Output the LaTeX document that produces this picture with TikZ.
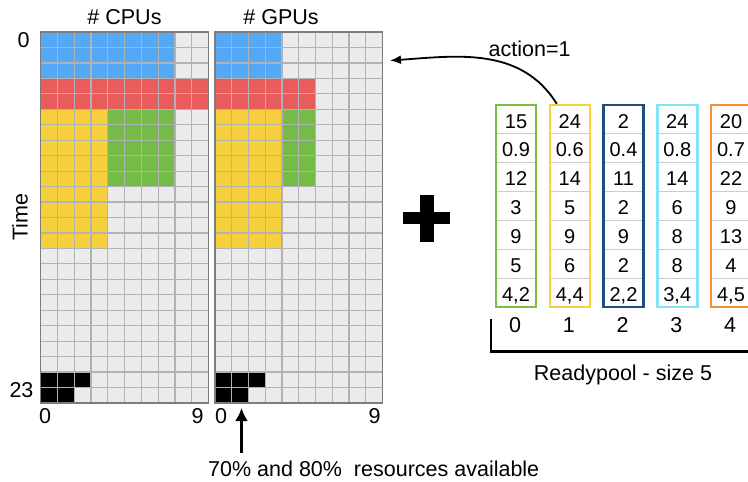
\documentclass[tikz,border=0pt]{standalone}
\usepackage{fontspec}
\setmainfont{Liberation Sans}
\usetikzlibrary{arrows.meta,positioning}

\definecolor{jobblue}{HTML}{55A8F5}
\definecolor{jobred}{HTML}{E85C5C}
\definecolor{jobyellow}{HTML}{F5CF3C}
\definecolor{jobgreen}{HTML}{74BC45}
\definecolor{cellgray}{HTML}{EBEBEB}
\definecolor{linegray}{HTML}{B2B2B2}
\definecolor{bordergray}{HTML}{7C7C7C}
\definecolor{sepgray}{HTML}{CCCCCC}
\definecolor{rpgreen}{HTML}{78C043}
\definecolor{rpyellow}{HTML}{F6D23E}
\definecolor{rpnavy}{HTML}{1F4E7C}
\definecolor{rpcyan}{HTML}{86E3F7}
\definecolor{rporange}{HTML}{F39234}

\begin{document}
\begin{tikzpicture}[x=1pt,y=-1pt,
    lbl/.style={font=\fontsize{21.5}{24}\selectfont,inner sep=0pt,anchor=base},
    cellnum/.style={font=\fontsize{20}{22}\selectfont,inner sep=0pt,anchor=base},
    gridline/.style={draw=linegray,line width=1.2pt},
    gridborder/.style={draw=bordergray,line width=1.6pt},
    poolbox/.style={draw=#1,line width=2.5pt,minimum width=40pt,minimum height=202pt,inner sep=0pt}]
    \useasboundingbox (0,0) rectangle (748,482);
    \clip (0,0) rectangle (748,482);

    % CPU occupancy grid (10 x 24)
    \begin{scope}[shift={(40.5,32)},x=16.8pt,y=-15.458pt]
      \fill[cellgray] (0,0) rectangle (10,24);
      \fill[jobblue] (0,0) rectangle (8,3);
      \fill[jobred] (0,3) rectangle (10,5);
      \fill[jobyellow] (0,5) rectangle (4,14);
      \fill[jobgreen] (4,5) rectangle (8,10);
      \fill[black] (0,22) rectangle (3,23);
      \fill[black] (0,23) rectangle (2,24);
      \foreach \i in {1,...,9}{
        \draw[gridline] (\i,0) -- (\i,24);
      }
      \foreach \j in {1,...,23}{
        \draw[gridline] (0,\j) -- (10,\j);
      }
      \draw[gridborder] (0,0) rectangle (10,24);
    \end{scope}

    % GPU occupancy grid (10 x 24)
    \begin{scope}[shift={(215,32)},x=16.75pt,y=-15.458pt]
      \fill[cellgray] (0,0) rectangle (10,24);
      \fill[jobblue] (0,0) rectangle (4,3);
      \fill[jobred] (0,3) rectangle (6,5);
      \fill[jobyellow] (0,5) rectangle (4,14);
      \fill[jobgreen] (4,5) rectangle (6,10);
      \fill[black] (0,22) rectangle (3,23);
      \fill[black] (0,23) rectangle (2,24);
      \foreach \i in {1,...,9}{
        \draw[gridline] (\i,0) -- (\i,24);
      }
      \foreach \j in {1,...,23}{
        \draw[gridline] (0,\j) -- (10,\j);
      }
      \draw[gridborder] (0,0) rectangle (10,24);
    \end{scope}

    % axis labels
    \node[lbl] (cpus) at (124.5,24) {\# CPUs};
    \node[lbl] (gpus) at (281,24) {\# GPUs};
    \node[lbl] (t0) at (23.5,47.5) {0};
    \node[lbl] (t23) at (21.5,397) {23};
    \node[lbl,anchor=center,rotate=90] (time) at (20,217) {Time};
    \node[lbl] (c0) at (45,423) {0};
    \node[lbl] (c9) at (197.5,423) {9};
    \node[lbl] (g0) at (221,423) {0};
    \node[lbl] (g9) at (374.5,423) {9};

    % resources note
    \node[lbl,anchor=base west] (note) at (208,476) {70\% and 80\%\ \ resources available};
    \coordinate (availtail) at (241.5,453);
    \coordinate (availtip) at (241.5,408);
    \draw[line width=2.6pt,-{Latex[length=13pt,width=13pt]}] (availtail) -- (availtip);

    % plus
    \draw[line width=12.5pt] (403,217.8) -- (450,217.8);
    \draw[line width=14pt] (426.7,195) -- (426.7,241.7);

    % ready pool columns
    \foreach \c/\clr in {0/rpgreen,1/rpyellow,2/rpnavy,3/rpcyan,4/rporange}{
      \foreach \k in {1,...,6}{
        \draw[sepgray,line width=1pt] (497+53.75*\c,105+28.857*\k) -- (535+53.75*\c,105+28.857*\k);
      }
      \node[poolbox=\clr] (rp-\c) at (516+53.75*\c,206) {};
      \node[lbl,anchor=base] (idx-\c) at (515+53.75*\c,332.7) {\c};
    }
    \foreach \v [count=\r from 0] in {15,0.9,12,3,9,5,{4,2}}
      \node[cellnum] (v0-\r) at (516,128+28.857*\r) {\v};
    \foreach \v [count=\r from 0] in {24,0.6,14,5,9,6,{4,4}}
      \node[cellnum] (v1-\r) at (569.75,128+28.857*\r) {\v};
    \foreach \v [count=\r from 0] in {2,0.4,11,2,9,2,{2,2}}
      \node[cellnum] (v2-\r) at (623.5,128+28.857*\r) {\v};
    \foreach \v [count=\r from 0] in {24,0.8,14,6,8,8,{3,4}}
      \node[cellnum] (v3-\r) at (677.25,128+28.857*\r) {\v};
    \foreach \v [count=\r from 0] in {20,0.7,22,9,13,4,{4,5}}
      \node[cellnum] (v4-\r) at (731,128+28.857*\r) {\v};

    % bracket under the pool
    \coordinate (brk-top) at (490.7,319);
    \coordinate (brk-end) at (750,351.5);
    \draw[line width=2.2pt] (brk-top) |- (brk-end);
    \node[lbl] (pool) at (623,380) {Readypool - size 5};

    % chosen action
    \coordinate (act-tip) at (390,60.5);
    \node[lbl,anchor=base west] (action) at (488.5,56.5) {action=1};
    \draw[line width=1.8pt,-{Latex[length=11pt,width=9pt]}] ([xshift=-13pt]rp-1.north) to[out=122,in=4] (act-tip);
  \end{tikzpicture}
\end{document}
